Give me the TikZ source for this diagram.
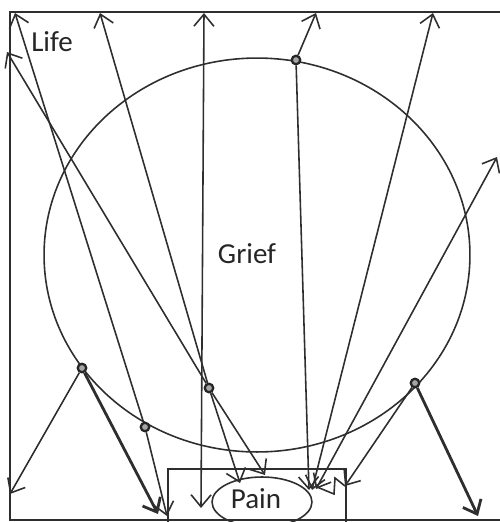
\documentclass[tikz,border=0pt]{standalone}
\usepackage{fontspec}
\setmainfont{Carlito}
\usetikzlibrary{arrows.meta}
\begin{document}
\begin{tikzpicture}[x=0.02cm,y=-0.02cm,
  ink/.style={draw=black!82, line width=0.9pt},
  arr/.style={ink, -{Straight Barb[length=2.4mm,width=4mm]}},
  darr/.style={ink, {Straight Barb[length=2.4mm,width=4mm]}-{Straight Barb[length=2.4mm,width=4mm]}},
  boldarr/.style={arr, line width=1.6pt},
  dotmark/.style={circle, draw=black!85, fill=black!35, line width=1.3pt, inner sep=0pt, minimum size=1.7mm},
  lbl/.style={font=\fontsize{16.5}{19}\selectfont, text=black!85, inner sep=0pt}]
\useasboundingbox (0,0) rectangle (500,522);
% frame (Life)
\draw[ink, line width=1.1pt] (506,12) -- (10,12) -- (10,520) -- (506,520);
% grief circle
\coordinate (gc) at (257,255);
\draw[ink] (gc) ellipse [x radius=4.26cm, y radius=3.94cm];
% pain box and oval
\draw[ink] (168,525) -- (168,469) -- (346,469) -- (346,525);
\coordinate (pc) at (262,502);
\draw[ink] (pc) ellipse [x radius=1cm, y radius=0.5cm];
% labels
\node[lbl] (life) at (52,42) {Life};
\node[lbl] (grief) at (247,254) {Grief};
\node[lbl] (pain) at (256,499) {Pain};
% marks on the circle
\node[dotmark] (p1) at (296,60) {};
\node[dotmark] (p2) at (82,368) {};
\node[dotmark] (p3) at (145,427) {};
\node[dotmark] (p4) at (209,388) {};
\node[dotmark] (p5) at (415,383) {};
% free ends
\coordinate (tA) at (15,13);
\coordinate (tB) at (7,52);
\coordinate (t2) at (100,13);
\coordinate (tV) at (204,13);
\coordinate (t1) at (316,13);
\coordinate (t3) at (433,13);
\coordinate (t4) at (497,157);
\coordinate (bV) at (201,508);
\coordinate (bA) at (167,516);
\coordinate (b2) at (240,483);
\coordinate (bB) at (265,475);
\coordinate (b1) at (309,490);
\coordinate (b3) at (312,490);
\coordinate (b4) at (316,489);
\coordinate (bl) at (10,494);
\coordinate (b22) at (158,514);
\coordinate (br) at (478,516);
\coordinate (z0) at (345,486);
% connectors
\draw[arr] (p1) -- (t1);
\draw[arr] (p1) -- (b1);
\draw[darr] (b3) -- (t3);
\draw[darr] (b4) -- (t4);
\draw[darr] (bV) -- (tV);
\draw[arr] (p3) -- (tA);
\draw[arr] (p3) -- (bA);
\draw[arr] (p4) -- (t2);
\draw[arr] (p4) -- (b2);
\draw[arr] (p4) -- (tB);
\draw[arr] (p4) -- (bB);
\draw[arr] (p2) -- (bl);
\draw[boldarr] (p2) -- (b22);
\draw[boldarr] (p5) -- (br);
\draw[arr] (p5) -- (z0);
\draw[ink] (z0) -- (335,478) -- (334,494) -- (317,487);
\end{tikzpicture}
\end{document}
